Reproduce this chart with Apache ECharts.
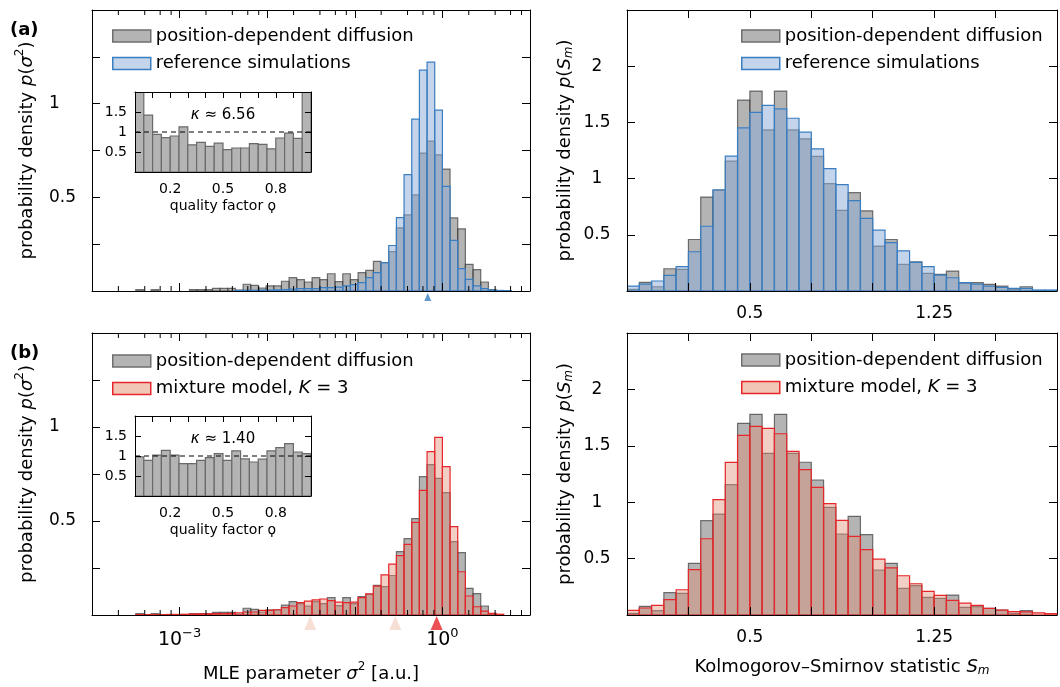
<!DOCTYPE html>
<html>
<head>
<meta charset="utf-8">
<title>MLE parameter and Kolmogorov–Smirnov statistic histograms</title>
<script src="https://cdn.jsdelivr.net/npm/echarts@6/dist/echarts.min.js"></script>
<style>
  html, body { margin: 0; padding: 0; background: #fff; }
  #chart { width: 1060px; height: 687px; }
</style>
</head>
<body>
<div id="chart"></div>
<script>
// ---- data -------------------------------------------------------------
// σ² histograms: bins uniform in log10(σ²), width 0.0875 decades, first edge at 10^-3.5
const sigmaBinStart = -3.5;
const sigmaBinWidth = 0.0875;
const sigmaPositionDependent = [
  0.007, 0, 0.007, 0, 0, 0, 0, 0.007, 0.007, 0.007,
  0.014, 0.014, 0.014, 0.005, 0.036, 0.03, 0.016, 0.027, 0.027, 0.052,
  0.071, 0.061, 0.048, 0.071, 0.061, 0.092, 0.05, 0.092, 0.061, 0.098,
  0.11, 0.158, 0.151, 0.21, 0.337, 0.406, 0.513, 0.736, 0.80, 0.727,
  0.651, 0.39, 0.332, 0.142, 0.114, 0.048, 0.007, 0, 0
];
const sigmaReference = [
  0, 0, 0, 0, 0, 0, 0, 0, 0, 0,
  0, 0, 0, 0.003, 0.004, 0.004, 0.005, 0.005, 0.006, 0.008,
  0.010, 0.013, 0.013, 0.013, 0.018, 0.018, 0.021, 0.027, 0.034, 0.045,
  0.071, 0.098, 0.151, 0.243, 0.392, 0.621, 0.917, 1.179, 1.222, 0.965,
  0.559, 0.27, 0.119, 0.062, 0.027, 0.013, 0.005, 0.003, 0.002
];
const sigmaMixture = [
  0.002, 0.002, 0.002, 0.002, 0.003, 0.003, 0.004, 0.005, 0.006, 0.006,
  0.007, 0.008, 0.009, 0.012, 0.016, 0.016, 0.025, 0.025, 0.028, 0.039,
  0.048, 0.066, 0.074, 0.080, 0.085, 0.076, 0.068, 0.066, 0.068, 0.092,
  0.112, 0.154, 0.213, 0.271, 0.316, 0.376, 0.493, 0.663, 0.869, 0.945,
  0.789, 0.47, 0.23, 0.101, 0.044, 0.021, 0.009, 0.004, 0
];

// Kolmogorov–Smirnov statistic histograms: bins of 0.05 starting at 0
const ksBinStart = 0;
const ksBinWidth = 0.05;
const ksPositionDependent = [
  0.015, 0.077, 0.038, 0.198, 0.192, 0.458, 0.836, 0.895, 1.155, 1.699,
  1.779, 1.433, 1.779, 1.433, 1.354, 1.197, 0.955, 0.718, 0.875, 0.713,
  0.399, 0.458, 0.236, 0.26, 0.157, 0.148, 0.177, 0.068, 0.074, 0.059,
  0.044, 0.015, 0.038, 0, 0
];
const ksReference = [
  0.044, 0.062, 0.089, 0.139, 0.216, 0.349, 0.576, 0.901, 1.2, 1.451,
  1.59, 1.652, 1.62, 1.537, 1.413, 1.265, 1.088, 0.946, 0.804, 0.647,
  0.541, 0.431, 0.357, 0.254, 0.216, 0.142, 0.118, 0.074, 0.062, 0.044,
  0.033, 0.024, 0.024, 0.009, 0.009
];
const ksMixture = [
  0.041, 0.062, 0.085, 0.136, 0.224, 0.402, 0.676, 1.022, 1.353, 1.592,
  1.672, 1.654, 1.607, 1.45, 1.288, 1.131, 0.987, 0.839, 0.697, 0.579,
  0.496, 0.417, 0.348, 0.277, 0.209, 0.174, 0.13, 0.106, 0.085, 0.059,
  0.044, 0.03, 0.027, 0.018, 0.012
];

// quality factor histograms (20 bins on [0, 1])
const qualityBinStart = 0;
const qualityBinWidth = 0.05;
const qualityReference = [
  2.6, 1.42, 0.94, 0.86, 0.90, 1.13, 0.68, 0.74, 0.64, 0.72,
  0.56, 0.60, 0.60, 0.71, 0.69, 0.58, 0.85, 0.97, 0.84, 2.6
];
const qualityMixture = [
  0.98, 0.89, 1.02, 1.14, 1.02, 0.81, 0.81, 0.89, 0.96, 1.06,
  0.89, 1.13, 0.93, 0.85, 0.92, 1.13, 1.21, 1.31, 1.10, 1.06
];
const kappaReference = '6.56';
const kappaMixture = '1.40';

// σ² of the simulated process and of the K = 3 mixture components
const trueSigma2 = [0.68];
const mixtureSigma2 = [0.031, 0.29, 0.86];
const mixtureDominant = [false, false, true];

// axis tick labels
const sigmaTickLabels = { '-3': '{b|10}{sup|−3}', '0': '{b|10}{sup|0}' };
const ksTickLabels = [0.5, 1.25];
const qualityTickLabels = [0.2, 0.5, 0.8];

const LABEL_PDD = 'position-dependent diffusion';
const LABEL_REF = 'reference simulations';
const LABEL_MIX = 'mixture model, K = 3';

// ---- styling ----------------------------------------------------------
const FONT = 'DejaVu Sans';
const GRAY_FILL = 'rgba(105,105,105,0.5)';
const GRAY_EDGE = 'rgba(60,60,60,0.7)';
const BLUE_FILL = 'rgba(137,170,215,0.5)';
const BLUE_EDGE = '#3a7ec2';
const RED_FILL = 'rgba(222,140,115,0.42)';
const RED_EDGE = '#e6262b';
const PALE_MARK = 'rgba(232,165,140,0.45)';

const richMath = {
  i: { fontFamily: FONT, fontSize: 18, fontStyle: 'italic', color: '#000' },
  sup: { fontFamily: FONT, fontSize: 12, color: '#000', padding: [0, 0, 14, 0] },
  sub: { fontFamily: FONT, fontSize: 12, fontStyle: 'italic', color: '#000', padding: [8, 0, 0, 0] }
};
const nameStyle = { fontFamily: FONT, fontSize: 18, color: '#000', rich: richMath };

// ---- helpers ----------------------------------------------------------
function histData(start, width, values) {
  return values.map((v, i) => [start + i * width, start + (i + 1) * width, v]);
}

function histSeries(name, data, gridIdx, fill, stroke, z) {
  return {
    type: 'custom',
    name: name,
    xAxisIndex: gridIdx * 2,
    yAxisIndex: gridIdx * 2,
    z: z,
    clip: true,
    silent: true,
    data: data,
    encode: { x: [0, 1], y: 2 },
    itemStyle: { color: fill, borderColor: stroke },
    renderItem: function (params, api) {
      const v = api.value(2);
      if (!(v > 0)) return null;
      const tl = api.coord([api.value(0), v]);
      const br = api.coord([api.value(1), 0]);
      return {
        type: 'rect',
        shape: { x: tl[0], y: tl[1], width: br[0] - tl[0], height: br[1] - tl[1] },
        style: { fill: fill, stroke: stroke, lineWidth: 1.2 }
      };
    }
  };
}

// minor ticks of the logarithmic σ² axis at 2, 4, 6, 8 × 10^n
const logMinorTicks = [];
for (let d = -4; d < 1; d++) {
  [2, 4, 6, 8].forEach(m => logMinorTicks.push(d + Math.log10(m)));
}
const sigmaDensityMax = 1.5;

function minorTickSeries(gridIdx) {
  return {
    type: 'custom',
    xAxisIndex: gridIdx * 2,
    yAxisIndex: gridIdx * 2,
    z: 12,
    silent: true,
    data: logMinorTicks.map(v => [v, 0]),
    encode: { x: 0, y: 1 },
    renderItem: function (params, api) {
      const b = api.coord([api.value(0), 0]);
      const t = api.coord([api.value(0), sigmaDensityMax]);
      return {
        type: 'group',
        children: [
          { type: 'line', shape: { x1: b[0], y1: b[1], x2: b[0], y2: b[1] - 5 }, style: { stroke: '#000', lineWidth: 1 } },
          { type: 'line', shape: { x1: t[0], y1: t[1], x2: t[0], y2: t[1] + 5 }, style: { stroke: '#000', lineWidth: 1 } }
        ]
      };
    }
  };
}

function axis(extra) {
  return Object.assign({
    type: 'value',
    z: 10,
    axisLine: { show: true, onZero: false, lineStyle: { color: '#000', width: 1 } },
    axisTick: { show: true, inside: true, length: 8, lineStyle: { color: '#000', width: 1 } },
    axisLabel: { show: false },
    splitLine: { show: false }
  }, extra);
}

const near = (a, b) => Math.abs(a - b) < 1e-6;

// ---- axes -------------------------------------------------------------
const sigmaX = (g, labelled) => [
  axis({
    gridIndex: g, min: -4, max: 1, interval: 1,
    axisLabel: labelled ? {
      show: true, margin: 12, color: '#000',
      formatter: v => sigmaTickLabels[String(Math.round(v))] && near(v, Math.round(v)) ? sigmaTickLabels[String(Math.round(v))] : '',
      rich: {
        b: { fontFamily: FONT, fontSize: 19, color: '#000' },
        sup: { fontFamily: FONT, fontSize: 13, color: '#000', padding: [0, 0, 14, 0] }
      }
    } : { show: false },
    name: labelled ? 'MLE parameter {i|σ}{sup|2} [a.u.]' : '',
    nameLocation: 'middle', nameGap: 46, nameTextStyle: nameStyle
  }),
  axis({ gridIndex: g, min: -4, max: 1, interval: 1, position: 'top' })
];
const ksX = (g, named) => [
  axis({
    gridIndex: g, min: 0, max: 1.75, interval: 0.25,
    axisLabel: {
      show: true, margin: 14, color: '#000', fontFamily: FONT, fontSize: 17,
      formatter: v => ksTickLabels.some(t => near(t, v)) ? String(v) : ''
    },
    name: named ? 'Kolmogorov–Smirnov statistic {i|S}{sub|m}' : '',
    nameLocation: 'middle', nameGap: 42, nameTextStyle: nameStyle
  }),
  axis({ gridIndex: g, min: 0, max: 1.75, interval: 0.25, position: 'top' })
];
const qualityX = g => [
  axis({
    gridIndex: g, min: 0, max: 1, interval: 0.1,
    axisTick: { show: false },
    axisLabel: {
      show: true, margin: 10, color: '#000', fontFamily: FONT, fontSize: 14,
      formatter: v => qualityTickLabels.some(t => near(t, v)) ? v.toFixed(1) : ''
    },
    name: 'quality factor ϙ', nameLocation: 'middle', nameGap: 27,
    nameTextStyle: { fontFamily: FONT, fontSize: 14, color: '#000' }
  }),
  axis({ gridIndex: g, min: 0, max: 1, interval: 0.1, position: 'top',
         axisTick: { show: true, inside: true, length: 6, lineStyle: { color: '#000' } } })
];

const sigmaY = g => [
  axis({
    gridIndex: g, min: 0, max: sigmaDensityMax, interval: 0.25,
    axisLabel: {
      show: true, align: 'left', margin: 43, color: '#000', fontFamily: FONT, fontSize: 17,
      formatter: v => (near(v, 0.5) || near(v, 1)) ? String(v) : ''
    },
    name: 'probability density {i|p}({i|σ}{sup|2})',
    nameLocation: 'middle', nameGap: 52, nameTextStyle: nameStyle
  }),
  axis({ gridIndex: g, min: 0, max: sigmaDensityMax, interval: 0.25, position: 'right' })
];
const ksY = g => [
  axis({
    gridIndex: g, min: 0, max: 2.5, interval: 0.5,
    axisLabel: {
      show: true, align: 'center', margin: 30, color: '#000', fontFamily: FONT, fontSize: 17,
      formatter: v => (v > 0.01 && v < 2.49) ? String(v) : ''
    },
    name: 'probability density {i|p}({i|S}{sub|m})',
    nameLocation: 'middle', nameGap: 52, nameTextStyle: nameStyle
  }),
  axis({ gridIndex: g, min: 0, max: 2.5, interval: 0.5, position: 'right' })
];
const qualityY = g => [
  axis({
    gridIndex: g, min: 0, max: 2, interval: 0.5,
    axisTick: { show: true, inside: true, length: 6, lineStyle: { color: '#000' } },
    axisLabel: {
      show: true, margin: 8, color: '#000', fontFamily: FONT, fontSize: 14,
      formatter: v => (v > 0.01 && v < 1.99) ? String(v) : ''
    }
  }),
  axis({ gridIndex: g, min: 0, max: 2, interval: 0.5, position: 'right',
         axisTick: { show: true, inside: true, length: 6, lineStyle: { color: '#000' } } })
];

// ---- legends ----------------------------------------------------------
const swatch = (fill, edge) => ({ color: fill, borderColor: edge, borderWidth: 1.5 });
const legendBase = {
  orient: 'vertical', itemWidth: 38, itemHeight: 12, itemGap: 9.5, padding: 0,
  selectedMode: false,
  textStyle: {
    fontFamily: FONT, fontSize: 18, color: '#000',
    rich: { i: { fontFamily: FONT, fontSize: 18, fontStyle: 'italic', color: '#000' } }
  },
  formatter: name => name === LABEL_MIX ? 'mixture model, {i|K} = 3' : name
};
const legendPdd = { name: LABEL_PDD, icon: 'rect', itemStyle: swatch('#b4b4b4', '#6e6e6e') };
const legendRef = { name: LABEL_REF, icon: 'rect', itemStyle: swatch('#c4d4eb', BLUE_EDGE) };
const legendMix = { name: LABEL_MIX, icon: 'rect', itemStyle: swatch('#f2c6b6', RED_EDGE) };

// ---- markers below the σ² axis -----------------------------------------
const trueMarker = {
  type: 'scatter', xAxisIndex: 0, yAxisIndex: 0, z: 13, clip: false, silent: true,
  symbol: 'triangle', symbolSize: [7, 8], symbolOffset: [0, 6],
  itemStyle: { color: BLUE_EDGE },
  data: trueSigma2.map(s => [Math.log10(s), 0])
};
const mixtureMarkers = {
  type: 'scatter', xAxisIndex: 4, yAxisIndex: 4, z: 13, clip: false, silent: true,
  symbol: 'triangle', symbolSize: [12, 14], symbolOffset: [0, 8],
  data: mixtureSigma2.map((s, i) => ({
    value: [Math.log10(s), 0],
    itemStyle: { color: mixtureDominant[i] ? RED_EDGE : PALE_MARK }
  }))
};

const refLine = (g) => ({
  type: 'line', xAxisIndex: g * 2, yAxisIndex: g * 2, z: 11, silent: true,
  showSymbol: false, symbol: 'none',
  lineStyle: { color: '#000', width: 1, type: [5, 4] },
  data: [[0, 1], [1, 1]]
});

const option = {
  animation: false,
  backgroundColor: '#fff',
  grid: [
    { left: 92, top: 10, width: 438, height: 281 },   // (a) σ²
    { left: 627, top: 10, width: 439, height: 281 },  // (a) KS
    { left: 92, top: 333, width: 438, height: 282 },  // (b) σ²
    { left: 627, top: 333, width: 439, height: 282 }, // (b) KS
    { left: 135, top: 92, width: 176, height: 80 },   // inset (a)
    { left: 135, top: 416, width: 176, height: 80 }   // inset (b)
  ],
  xAxis: [].concat(sigmaX(0, false), ksX(1, false), sigmaX(2, true), ksX(3, true), qualityX(4), qualityX(5)),
  yAxis: [].concat(sigmaY(0), ksY(1), sigmaY(2), ksY(3), qualityY(4), qualityY(5)),
  legend: [
    Object.assign({ left: 112, top: 27, data: [legendPdd, legendRef] }, legendBase),
    Object.assign({ left: 741, top: 27, data: [legendPdd, legendRef] }, legendBase),
    Object.assign({ left: 112, top: 352, data: [legendPdd, legendMix] }, legendBase),
    Object.assign({ left: 741, top: 351, data: [legendPdd, legendMix] }, legendBase)
  ],
  graphic: [
    { type: 'text', left: 10, top: 21, style: { text: '(a)', font: 'bold 18px "DejaVu Sans"', fill: '#000' } },
    { type: 'text', left: 10, top: 344, style: { text: '(b)', font: 'bold 18px "DejaVu Sans"', fill: '#000' } },
    { type: 'text', x: 223, y: 115, style: {
        text: '{i|κ} ≈ ' + kappaReference, align: 'center', verticalAlign: 'middle',
        font: '15px "DejaVu Sans"', fill: '#000',
        rich: { i: { fontFamily: FONT, fontSize: 15, fontStyle: 'italic' } } } },
    { type: 'text', x: 223, y: 439, style: {
        text: '{i|κ} ≈ ' + kappaMixture, align: 'center', verticalAlign: 'middle',
        font: '15px "DejaVu Sans"', fill: '#000',
        rich: { i: { fontFamily: FONT, fontSize: 15, fontStyle: 'italic' } } } }
  ],
  series: [
    // (a) σ²
    histSeries(LABEL_PDD, histData(sigmaBinStart, sigmaBinWidth, sigmaPositionDependent), 0, GRAY_FILL, GRAY_EDGE, 2),
    histSeries(LABEL_REF, histData(sigmaBinStart, sigmaBinWidth, sigmaReference), 0, BLUE_FILL, BLUE_EDGE, 3),
    minorTickSeries(0),
    trueMarker,
    // (a) KS
    histSeries(LABEL_PDD, histData(ksBinStart, ksBinWidth, ksPositionDependent), 1, GRAY_FILL, GRAY_EDGE, 2),
    histSeries(LABEL_REF, histData(ksBinStart, ksBinWidth, ksReference), 1, BLUE_FILL, BLUE_EDGE, 3),
    // (b) σ²
    histSeries(LABEL_PDD, histData(sigmaBinStart, sigmaBinWidth, sigmaPositionDependent), 2, GRAY_FILL, GRAY_EDGE, 2),
    histSeries(LABEL_MIX, histData(sigmaBinStart, sigmaBinWidth, sigmaMixture), 2, RED_FILL, RED_EDGE, 3),
    minorTickSeries(2),
    mixtureMarkers,
    // (b) KS
    histSeries(LABEL_PDD, histData(ksBinStart, ksBinWidth, ksPositionDependent), 3, GRAY_FILL, GRAY_EDGE, 2),
    histSeries(LABEL_MIX, histData(ksBinStart, ksBinWidth, ksMixture), 3, RED_FILL, RED_EDGE, 3),
    // insets: quality factor
    histSeries('quality factor (a)', histData(qualityBinStart, qualityBinWidth, qualityReference), 4, '#b4b4b4', '#6a6a6a', 4),
    refLine(4),
    histSeries('quality factor (b)', histData(qualityBinStart, qualityBinWidth, qualityMixture), 5, '#b4b4b4', '#6a6a6a', 4),
    refLine(5)
  ]
};

const chart = echarts.init(document.getElementById('chart'), null, { renderer: 'canvas' });
chart.setOption(option);
</script>
</body>
</html>
